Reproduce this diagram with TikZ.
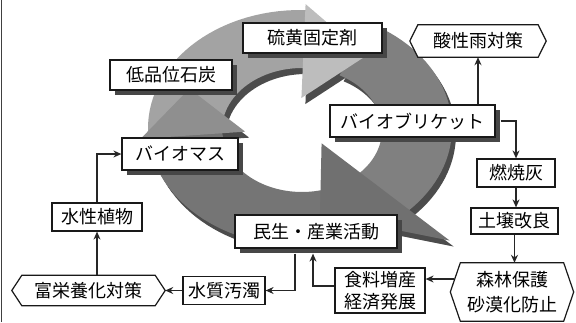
\documentclass[tikz,border=0pt]{standalone}
\usepackage{fontspec}
\newfontfamily\jp{Noto Sans CJK JP}
\usetikzlibrary{arrows.meta,shadows}
\pgfdeclarelayer{bg}
\pgfsetlayers{bg,main}
\newcommand{\ringbody}[3]{\fill[#1] plot[domain=#2:#3,samples=40,variable=\t] ({300+152*cos(\t)},{128-118*sin(\t)}) -- plot[domain=#3:#2,samples=40,variable=\t] ({302+80*cos(\t)},{130-62*sin(\t)}) -- cycle;}
\newcommand{\hexo}[2]{\path[hexfill] ([xshift=-#2]#1.west) -- (#1.north west) -- (#1.north east) -- ([xshift=#2]#1.east) -- (#1.south east) -- (#1.south west) -- cycle;}
\begin{document}
\begin{tikzpicture}[x=1pt,y=-1pt,
  lbl/.style={inner sep=0pt, font=\jp\fontsize{18}{22}\selectfont, align=center, text=black},
  box/.style={lbl, draw=black!90, line width=1.2pt, fill=white},
  sbox/.style={box, general shadow={fill=black!72, shadow xshift=5pt, shadow yshift=-5pt}},
  hexfill/.style={draw=black!90, line width=1.2pt, fill=white},
  arr/.style={draw=black!85, line width=1.3pt, -{Stealth[length=8pt,width=7pt]}},
]
\useasboundingbox (0,0) rectangle (576,322);

% ---- nodes
\node[sbox, minimum width=122pt, minimum height=30pt] (coal) at (171,75) {低品位石炭};
\node[sbox, minimum width=139pt, minimum height=30pt] (sulfur) at (312.5,38) {硫黄固定剤};
\node[lbl, minimum width=120pt, minimum height=32pt] (acid) at (478,41) {酸性雨対策};
\node[sbox, minimum width=165pt, minimum height=32pt] (briq) at (412.5,121) {バイオブリケット};
\node[sbox, minimum width=116pt, minimum height=32pt] (biomass) at (180,154) {バイオマス};
\node[box, minimum width=90pt, minimum height=28pt] (plants) at (97,217) {水性植物};
\node[lbl, minimum width=133pt, minimum height=30pt] (eutro) at (88.5,290.5) {富栄養化対策};
\node[box, minimum width=82pt, minimum height=28pt] (water) at (224,290.5) {水質汚濁};
\node[sbox, minimum width=162pt, minimum height=33pt] (ind) at (316,231.5) {民生・産業活動};
\node[box, minimum width=90pt, minimum height=45pt] (food) at (380,290.5) {食料増産\\経済発展};
\node[lbl, minimum width=103pt, minimum height=58pt] (forest) at (512,292) {森林保護\\[3pt]砂漠化防止};
\node[box, minimum width=78pt, minimum height=28pt] (ash) at (516,173) {燃焼灰};
\node[box, minimum width=87pt, minimum height=26pt] (soil) at (514.5,221) {土壌改良};

% ---- background: cycle arrows and hexagon frames
\begin{pgfonlayer}{bg}
  \begin{scope}[shift={(4,6)}]
    \ringbody{black!70}{210}{85}
    \ringbody{black!70}{62}{-47}
    \ringbody{black!70}{-60}{-178}
    \fill[black!70] ({300+160*cos(88)},{128-124*sin(88)}) -- ({300+115*cos(55)},{128-88*sin(55)}) -- ({300+40*cos(88)},{128-30*sin(88)}) -- cycle;
    \fill[black!70] ({300+208*cos(-44)},{128-162*sin(-44)}) -- ({300+115*cos(-80)},{128-88*sin(-80)}) -- ({300+30*cos(-44)},{128-22*sin(-44)}) -- cycle;
    \fill[black!70] ({300+160*cos(185)},{128-124*sin(185)}) -- ({300+122*cos(155)},{128-93*sin(155)}) -- ({300+55*cos(185)},{128-42*sin(185)}) -- cycle;
  \end{scope}
  \ringbody{black!36}{210}{85}
  \ringbody{black!50}{62}{-47}
  \ringbody{black!54}{-60}{-178}
  \fill[black!26] ({300+160*cos(88)},{128-124*sin(88)}) -- ({300+115*cos(55)},{128-88*sin(55)}) -- ({300+40*cos(88)},{128-30*sin(88)}) -- cycle;
  \fill[black!56] ({300+208*cos(-44)},{128-162*sin(-44)}) -- ({300+115*cos(-80)},{128-88*sin(-80)}) -- ({300+30*cos(-44)},{128-22*sin(-44)}) -- cycle;
  \fill[black!44] ({300+160*cos(185)},{128-124*sin(185)}) -- ({300+122*cos(155)},{128-93*sin(155)}) -- ({300+55*cos(185)},{128-42*sin(185)}) -- cycle;
  \hexo{acid}{8pt}
  \hexo{eutro}{10pt}
  \hexo{forest}{10pt}
\end{pgfonlayer}

% ---- frame line
\draw[black!75, line width=1.5pt] (1.5,0) -- (1.5,322);

% ---- connectors
\draw[arr] (briq.north -| acid.south) -- (acid.south);
\draw[arr] ([xshift=5pt]briq.east) -| (ash.north);
\draw[arr] (ash.south) -- (ash.south |- soil.north);
\draw[arr] (soil.south) -- (soil.south |- forest.north);
\coordinate (f1) at ([xshift=-6pt,yshift=13pt]forest.west);
\draw[arr] (f1) -- (f1 -| food.east);
\coordinate (fd) at ([yshift=4.5pt]food.west);
\draw[arr] (fd) -| ([xshift=-3pt,yshift=-5pt]ind.south);
\coordinate (iw) at ([xshift=-21pt,yshift=-5pt]ind.south);
\draw[arr] (iw) |- (water.east);
\draw[arr] (water.west) -- ([xshift=10pt]eutro.east);
\draw[arr] (plants.south |- eutro.north) -- (plants.south);
\draw[arr] (plants.north) |- (biomass.west);
\end{tikzpicture}
\end{document}
